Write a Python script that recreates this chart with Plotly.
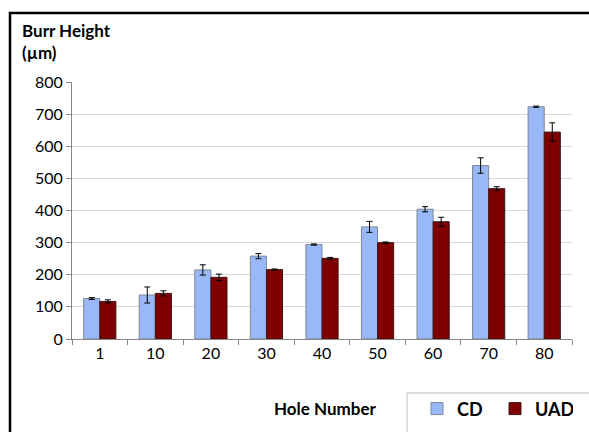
import plotly.graph_objects as go

holes = ["1", "10", "20", "30", "40", "50", "60", "70", "80"]
cd_values = [126, 137, 215, 258, 294, 349, 404, 540, 723]
cd_errors = [3, 25, 16, 8, 2, 17, 8, 24, 2]
uad_values = [117, 142, 192, 216, 251, 300, 365, 468, 644]
uad_errors = [5, 8, 10, 2, 3, 2, 14, 6, 29]
y_ticks = [0, 100, 200, 300, 400, 500, 600, 700, 800]

FONT = "Lato, 'Open Sans', sans-serif"

fig = go.Figure()
fig.add_trace(go.Bar(
    name="CD", x=holes, y=cd_values,
    marker=dict(color="#99B8F7", line=dict(color="#7f8796", width=1)),
    error_y=dict(type="data", array=cd_errors, color="#000000", thickness=1, width=3),
))
fig.add_trace(go.Bar(
    name="UAD", x=holes, y=uad_values,
    marker=dict(color="#7F0000", line=dict(color="#3a1a1a", width=1)),
    error_y=dict(type="data", array=uad_errors, color="#000000", thickness=1, width=3),
))

fig.update_layout(
    width=589, height=432,
    margin=dict(l=72, r=17, t=82, b=93, autoexpand=False),
    paper_bgcolor="white", plot_bgcolor="white",
    barmode="group", bargap=0.42, bargroupgap=0,
    font=dict(family=FONT, size=16, color="#000000"),
    showlegend=True,
    legend=dict(orientation="h", x=0.69, xanchor="left", y=-0.2, yanchor="top",
                font=dict(size=18, family=FONT, color="#000000", weight="bold"),
                bgcolor="rgba(0,0,0,0)", borderwidth=0,
                itemwidth=30, entrywidth=33, entrywidthmode="pixels",
                traceorder="normal"),
    xaxis=dict(type="category", showline=True, linecolor="#868686", linewidth=1,
               ticks="outside", tickson="boundaries", ticklen=5, tickcolor="#868686",
               tickfont=dict(size=16, family=FONT), showgrid=False),
    yaxis=dict(range=[0, 800], tickvals=y_ticks, showline=True, linecolor="#868686",
               linewidth=1, ticks="outside", ticklen=5, tickcolor="#868686",
               tickfont=dict(size=16, family=FONT), gridcolor="#d9d9d9", gridwidth=1,
               zeroline=False),
    shapes=[
        dict(type="rect", xref="paper", yref="paper", x0=-0.124, x1=1.5, y0=-0.8, y1=1.268,
             line=dict(color="black", width=2.5), fillcolor="rgba(0,0,0,0)", layer="below"),
        dict(type="rect", xref="paper", yref="paper", x0=0.67, x1=1.5, y0=-0.8, y1=-0.21,
             line=dict(color="#bfbfbf", width=1), fillcolor="rgba(0,0,0,0)", layer="below"),
    ],
    annotations=[
        dict(text="<b>Burr Height<br>(µm)</b>", xref="paper", yref="paper",
             x=-0.104, y=1.25, xanchor="left", yanchor="top", showarrow=False, align="left",
             font=dict(size=17, family=FONT)),
        dict(text="<b>Hole Number</b>", xref="paper", yref="paper",
             x=0.506, y=-0.27, xanchor="center", yanchor="middle", showarrow=False,
             font=dict(size=17, family=FONT)),
    ],
)

fig.write_html("out.html", config={"displayModeBar": False},
               post_script="document.body.style.margin='0';")
